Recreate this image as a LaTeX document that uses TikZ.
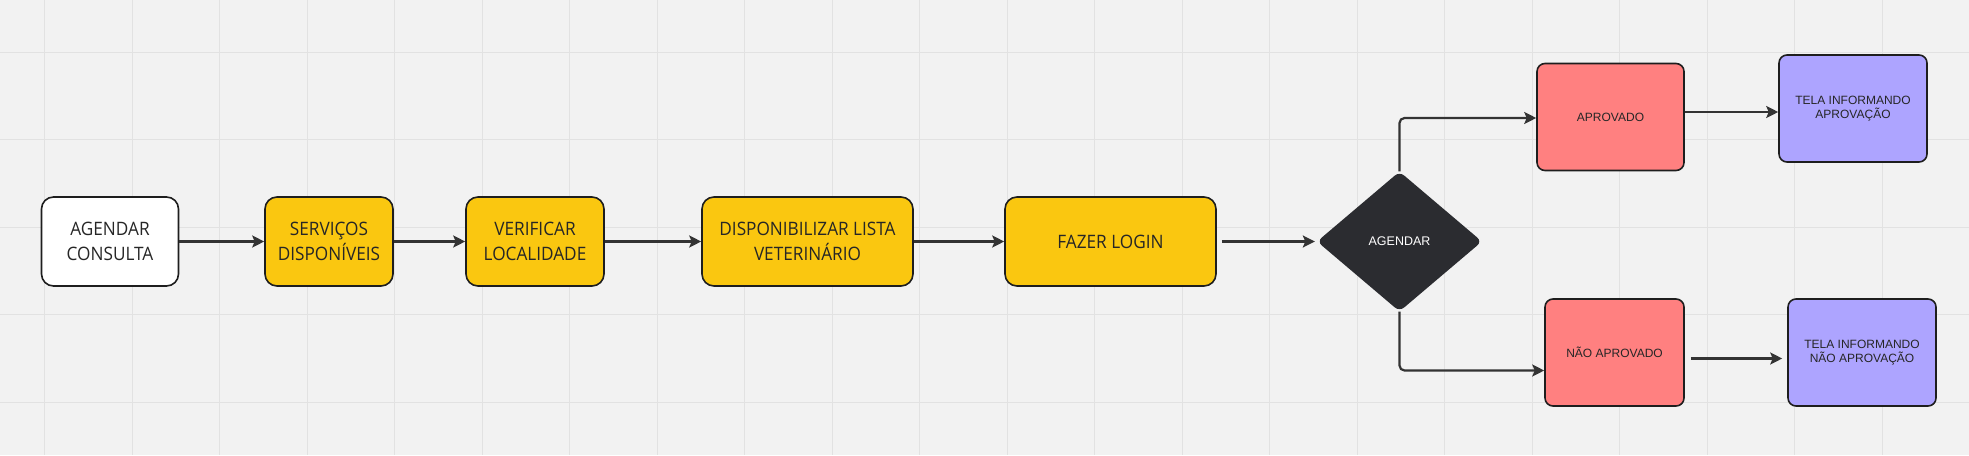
\documentclass[tikz,border=0pt]{standalone}
\usepackage{fontspec}
\setmainfont{Liberation Sans}
\newfontfamily\condfont[FakeStretch=0.93]{Open Sans}
\usepackage{tikz}
\usetikzlibrary{shapes.geometric,arrows.meta}

\definecolor{fundo}{HTML}{F2F2F2}
\definecolor{grade}{HTML}{E2E2E2}
\definecolor{borda}{HTML}{1E1E1E}
\definecolor{seta}{HTML}{333333}
\definecolor{amarelo}{HTML}{FAC710}
\definecolor{vermelho}{HTML}{FF8080}
\definecolor{roxo}{HTML}{ADA4FF}
\definecolor{escuro}{HTML}{2B2C30}

\begin{document}
\begin{tikzpicture}[x=1pt, y=-1pt,
    etapa/.style={draw=borda, line width=1.6pt, rounded corners=12pt, align=center,
        minimum height=89pt, inner sep=0pt, text=black!85,
        font=\condfont\fontsize{18.5}{25}\selectfont},
    resultado/.style={draw=borda, line width=1.6pt, rounded corners=8pt, align=center,
        minimum width=147pt, minimum height=107pt, inner sep=0pt, text=black!85,
        font=\fontsize{12}{14.3}\selectfont},
    seta/.style={draw=seta, line width=2.2pt, -{Stealth[length=12pt,width=12pt,inset=2.5pt]}},
    gridline/.style={draw=grade, line width=1pt}]

    \useasboundingbox[fill=fundo] (0,0) rectangle (1969,455);
    \foreach \gx in {0,...,21}
        \draw[gridline] ({44.5+87.5*\gx},0) -- ({44.5+87.5*\gx},455);
    \foreach \gy in {0,...,4}
        \draw[gridline] (0,{52+87.5*\gy}) -- (1969,{52+87.5*\gy});

    \node[etapa, fill=white, minimum width=137pt] (consulta) at (110,241.5) {AGENDAR\\CONSULTA};
    \node[etapa, fill=amarelo, minimum width=128pt] (servicos) at (329,241.5) {SERVIÇOS\\DISPONÍVEIS};
    \node[etapa, fill=amarelo, minimum width=138pt] (localidade) at (535,241.5) {VERIFICAR\\LOCALIDADE};
    \node[etapa, fill=amarelo, minimum width=211pt] (lista) at (807.5,241.5) {DISPONIBILIZAR LISTA\\VETERINÁRIO};
    \node[etapa, fill=amarelo, minimum width=211pt] (login) at (1110.5,241.5) {FAZER LOGIN};

    \node[diamond, aspect=1.18, fill=escuro, rounded corners=6pt, minimum width=165pt,
        minimum height=140pt, inner sep=0pt, text=white, font=\fontsize{12.5}{14}\selectfont]
        (agendar) at (1399.5,241.5) {AGENDAR};

    \node[resultado, fill=vermelho] (aprovado) at (1610.5,117) {APROVADO};
    \node[resultado, fill=roxo, minimum width=148pt] (telaaprov) at (1853,108.5) {TELA INFORMANDO\\APROVAÇÃO};
    \node[resultado, fill=vermelho, minimum width=139pt] (naoaprovado) at (1614.5,352.5) {NÃO APROVADO};
    \node[resultado, fill=roxo, minimum width=148pt] (telanao) at (1862,352.5) {TELA INFORMANDO\\NÃO APROVAÇÃO};

    \draw[seta] (consulta.east) -- (servicos.west);
    \draw[seta] (servicos.east) -- (localidade.west);
    \draw[seta] (localidade.east) -- (lista.west);
    \draw[seta] (lista.east) -- (login.west);
    \draw[seta, shorten <=5pt, shorten >=2pt] (login.east) -- (agendar.west);

    \draw[seta, rounded corners=5pt] (agendar.north) |- ([yshift=-1pt]aprovado.west);
    \draw[seta, rounded corners=5pt] (agendar.south) |- ([yshift=-18pt]naoaprovado.west);

    \draw[seta] ([yshift=5pt]aprovado.east) coordinate (saida1) -- (saida1 -| telaaprov.west);
    \draw[seta, shorten <=6pt, shorten >=5pt] ([yshift=-6pt]naoaprovado.east) coordinate (saida2)
        -- (saida2 -| telanao.west);
\end{tikzpicture}
\end{document}
